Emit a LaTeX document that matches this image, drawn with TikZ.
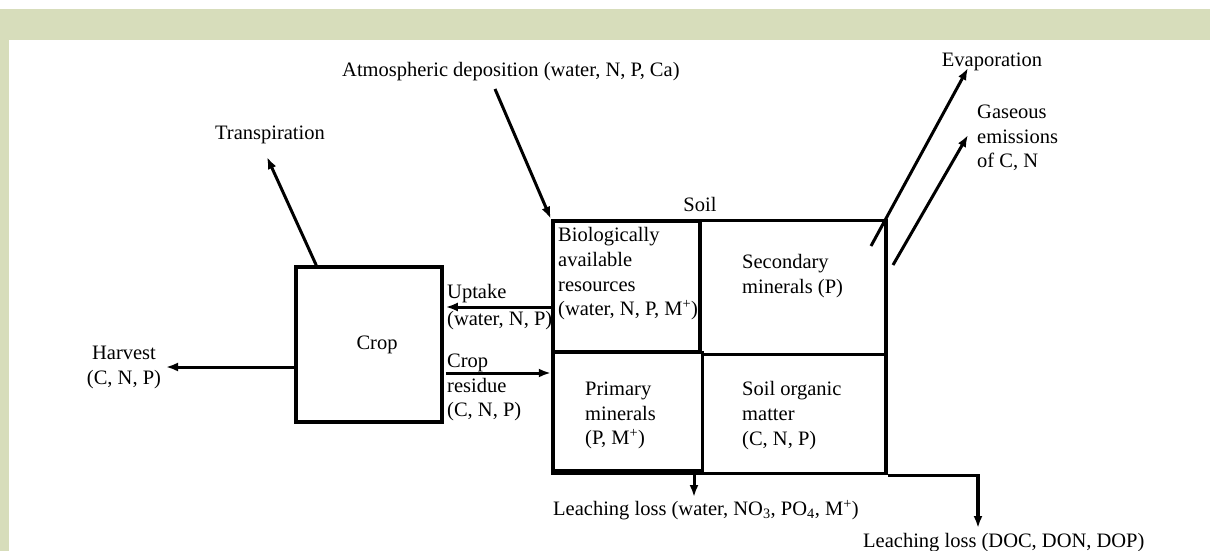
\documentclass[tikz,border=0pt]{standalone}
\usepackage{fontspec}
\setmainfont{Liberation Serif}
\usetikzlibrary{arrows.meta}
\definecolor{bandgreen}{RGB}{215,221,187}

\begin{document}
\begin{tikzpicture}[x=1pt,y=-1pt,
    every node/.style={font=\fontsize{20.5}{24.7}\selectfont, inner sep=0pt},
    box/.style={draw, line width=3.5pt},
    arr/.style={line width=3pt, -{Latex[length=12pt,width=9pt]}}]
    \useasboundingbox (0,0) rectangle (1210,551);
    \fill[bandgreen] (0,9.5) rectangle (1210,40);
    \fill[bandgreen] (0,40) rectangle (9,551);

    \node[box, minimum width=146pt, minimum height=155pt] (crop) at (369,344.5) {};
    \node[box, minimum width=333pt, minimum height=253pt] (soil) at (719.5,347) {};
    \node[box, line width=4.5pt, minimum width=147pt, minimum height=131pt] (bio) at (626.5,286.5) {};
    \node[box, line width=3pt, minimum width=149pt, minimum height=118pt] (prim) at (627.5,411) {};
    \draw[line width=3pt] (bio.south east) -- (bio.south east -| soil.east);

    \node (croptxt) at (377,345) {Crop};
    \node[align=center] (harv) at (124,367.5) {Harvest\\(C, N, P)};
    \node (trans) at (270,135) {Transpiration};
    \node[anchor=west] (atm) at (342,72) {Atmospheric deposition (water, N, P, Ca)};
    \node (soiltxt) at (700,204) {Soil};
    \node[anchor=west, align=left] (biotxt) at (558,274) {Biologically\\available\\resources\\(water, N, P, M\textsuperscript{+})};
    \node[anchor=west, align=left] (sectxt) at (742,276) {Secondary\\minerals (P)};
    \node[anchor=west, align=left] (primtxt) at (585,415.5) {Primary\\minerals\\(P, M\textsuperscript{+})};
    \node[anchor=west, align=left] (somtxt) at (742,415.5) {Soil organic\\matter\\(C, N, P)};
    \node[anchor=west, align=left] (uptake) at (447,307) {Uptake\\[3pt](water, N, P)};
    \node[anchor=west, align=left] (resid) at (447,387.5) {Crop\\residue\\(C, N, P)};
    \node (evap) at (992,62) {Evaporation};
    \node[anchor=west, align=left] (gas) at (977,138) {Gaseous\\emissions\\of C, N};
    \node[anchor=west] (leach1) at (553,510) {Leaching loss (water, NO\textsubscript{3}, PO\textsubscript{4}, M\textsuperscript{+})};
    \node[anchor=west] (leach2) at (863,543) {Leaching loss (DOC, DON, DOP)};

    \coordinate (harvtip) at (166,367);
    \coordinate (transtip) at (267,157);
    \coordinate (atmtail) at (495,89);
    \coordinate (evaptail) at (871,246);
    \coordinate (evaptip) at (968,68);
    \coordinate (gastail) at (893,265);
    \coordinate (gastip) at (968,135);
    \coordinate (leachtip) at (694,497);
    \coordinate (dochtip) at (978,528);
    \coordinate (upt) at ([yshift=37.5pt]crop.east);
    \coordinate (res) at ([yshift=-28.5pt]crop.east);

    \draw[arr] (crop.west |- harvtip) -- (harvtip);
    \draw[arr] ([xshift=22pt]crop.north west) -- (transtip);
    \draw[arr] (atmtail) -- (bio.north west);
    \draw[arr] (bio.west |- upt) -- ([xshift=2pt]upt);
    \draw[arr] ([xshift=2pt]res) -- (bio.west |- res);
    \draw[arr] (evaptail) -- (evaptip);
    \draw[arr] (gastail) -- (gastip);
    \draw[arr] (soil.south -| leachtip) -- (leachtip);
    \draw[arr, line width=3.5pt] (soil.south east) -- (soil.south east -| dochtip) -- (dochtip);
\end{tikzpicture}
\end{document}
